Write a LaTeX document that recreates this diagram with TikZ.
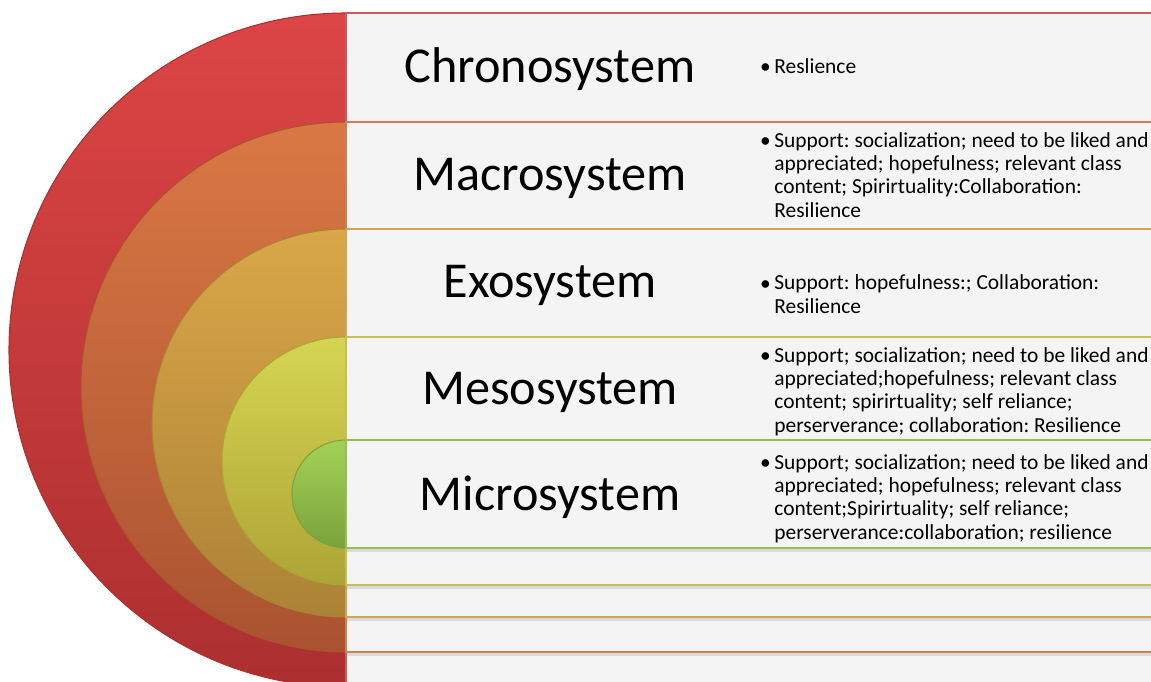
\documentclass[tikz,border=0pt]{standalone}
\usepackage{fontspec}
\setmainfont{Carlito}
\usetikzlibrary{shadows}
\frenchspacing

\definecolor{chronotop}{HTML}{DC4545}
\definecolor{chronobot}{HTML}{AC2F2F}
\definecolor{chronoline}{HTML}{D05858}
\definecolor{macrotop}{HTML}{D97844}
\definecolor{macrobot}{HTML}{AA5230}
\definecolor{macroline}{HTML}{CF7F52}
\definecolor{exotop}{HTML}{D9A748}
\definecolor{exobot}{HTML}{AC8236}
\definecolor{exoline}{HTML}{D0A452}
\definecolor{mesotop}{HTML}{D6D552}
\definecolor{mesobot}{HTML}{ADA436}
\definecolor{mesoline}{HTML}{C2C252}
\definecolor{microtop}{HTML}{A4D256}
\definecolor{microbot}{HTML}{7AA23C}
\definecolor{microline}{HTML}{98BE50}
\definecolor{panelgray}{HTML}{F4F4F4}

\tikzset{
  ring/.style={line width=0.6pt},
  panel/.style={fill=panelgray, line width=1.1pt,
    drop shadow={shadow xshift=0pt, shadow yshift=-2.5pt, opacity=0.22}},
  title/.style={font=\fontsize{28.6}{34}\selectfont, anchor=base, inner sep=0pt},
  bul/.style={font=\fontsize{12.2}{13.1}\selectfont, anchor=base, inner sep=0pt},
  listtext/.style={font=\fontsize{12.2}{13.1}\selectfont, align=left, anchor=base west, inner sep=0pt}
}

\begin{document}
\begin{tikzpicture}[x=0.02cm, y=0.02cm]
  \useasboundingbox (0,0) rectangle (1151,681);
  \clip (0,0) rectangle (1151,681);

  % Chronosystem ring and panel
  \shade[ring, top color=chronotop, bottom color=chronobot, draw=chronobot] (346,668) arc (90:270:337) -- cycle;
  \fill[panel, draw=chronoline] (346,668) rectangle (1170,-6);

  % Macrosystem ring and panel
  \shade[ring, top color=macrotop, bottom color=macrobot, draw=macrobot] (346,559) arc (90:270:265) -- cycle;
  \fill[panel, draw=macroline] (346,559) rectangle (1170,29);

  % Exosystem ring and panel
  \shade[ring, top color=exotop, bottom color=exobot, draw=exobot] (346,452) arc (90:270:194) -- cycle;
  \fill[panel, draw=exoline] (346,452) rectangle (1170,64);

  % Mesosystem ring and panel
  \shade[ring, top color=mesotop, bottom color=mesobot, draw=mesobot] (346,344) arc (90:270:124) -- cycle;
  \fill[panel, draw=mesoline] (346,344) rectangle (1170,96);

  % Microsystem ring and panel
  \shade[ring, top color=microtop, bottom color=microbot, draw=microbot] (346,241) arc (90:270:54) -- cycle;
  \fill[panel, draw=microline] (346,241) rectangle (1170,133);

  % Titles
  \node[title] (chronotitle) at (550,599) {Chronosystem};
  \node[title] (macrotitle) at (550,491) {Macrosystem};
  \node[title] (exotitle) at (550,384) {Exosystem};
  \node[title] (mesotitle) at (550,277) {Mesosystem};
  \node[title] (microtitle) at (550,171) {Microsystem};

  % Bullets
  \node[bul] (chronobul) at (765.5,608) {\textbullet};
  \node[bul] (macrobul) at (765.5,534) {\textbullet};
  \node[bul] (exobul) at (765.5,391) {\textbullet};
  \node[bul] (mesobul) at (765.5,319) {\textbullet};
  \node[bul] (microbul) at (765.5,212) {\textbullet};

  % Lists (base = last line)
  \node[listtext] (chronotext) at (774,608) {Reslience};
  \node[listtext] (macrotext) at (774,464) {Support: socialization; need to be liked and\\
    appreciated; hopefulness; relevant class\\
    content; Spirirtuality:Collaboration:\\
    Resilience};
  \node[listtext] (exotext) at (774,368) {Support: hopefulness:; Collaboration:\\
    Resilience};
  \node[listtext] (mesotext) at (774,249) {Support; socialization; need to be liked and\\
    appreciated;hopefulness; relevant class\\
    content; spirirtuality; self reliance;\\
    perserverance; collaboration: Resilience};
  \node[listtext] (microtext) at (774,142) {Support; socialization; need to be liked and\\
    appreciated; hopefulness; relevant class\\
    content;Spirirtuality; self reliance;\\
    perserverance:collaboration; resilience};
\end{tikzpicture}
\end{document}
